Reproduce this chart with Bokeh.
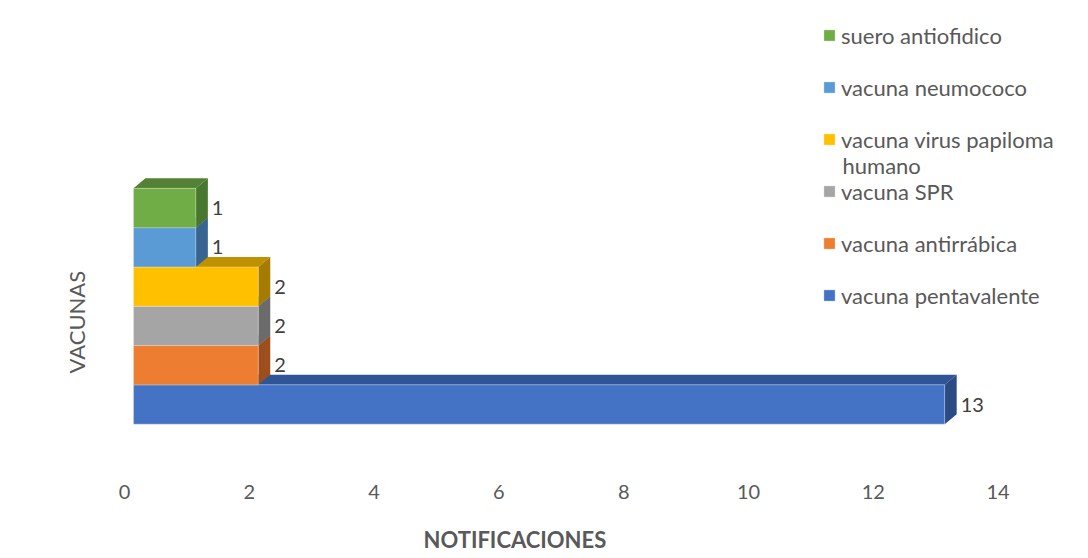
from bokeh.plotting import figure
from bokeh.models import (Range1d, FixedTicker, Legend, LegendItem, Label, Title,
                          ColumnDataSource)
from bokeh.embed import file_html
from bokeh.resources import INLINE
from bokeh.core.properties import value

# ---- data ----
series = ["vacuna pentavalente", "vacuna antirrábica", "vacuna SPR",
          "vacuna virus papiloma humano", "vacuna neumococo", "suero antiofidico"]
counts = [13, 2, 2, 2, 1, 1]
front_colors = ["#4472c4", "#ed7d31", "#a5a5a5", "#ffc000", "#5b9bd5", "#70ad47"]
top_colors = ["#2f5597", "#b05b22", "#7d7d7d", "#bf9000", "#41719c", "#538135"]
side_colors = ["#2c4b84", "#9c4f1d", "#6b6b6b", "#a67c00", "#386491", "#4a772e"]
x_ticks = [0, 2, 4, 6, 8, 10, 12, 14]
x_title = "NOTIFICACIONES"
y_title = "VACUNAS"

# ---- 3D styling (in data units) ----
OFF = 0.144   # front face shift
DX = 0.192    # depth in x
DY = 0.254    # depth in y
H = 0.5       # half bar height

FONT = "Lato"
TXT = "#595959"

n = len(series)
ys = list(range(n))
src = ColumnDataSource(dict(
    y=ys,
    left=[OFF] * n,
    right=[c + OFF for c in counts],
    bottom=[y - H for y in ys],
    top=[y + H for y in ys],
    color=front_colors,
    name=series,
))

top_xs = [[OFF, c + OFF, c + OFF + DX, OFF + DX] for c in counts]
top_ys = [[y + H, y + H, y + H + DY, y + H + DY] for y in ys]
side_xs = [[c + OFF, c + OFF + DX, c + OFF + DX, c + OFF] for c in counts]
side_ys = [[y - H, y - H + DY, y + H + DY, y + H] for y in ys]

FRAME_W, FRAME_H = 965, 456
p = figure(frame_width=FRAME_W, frame_height=FRAME_H,
           x_range=Range1d(-0.224, 15.24), y_range=Range1d(-1.832, 9.771),
           output_backend="svg", toolbar_location=None,
           min_border_left=110, min_border_right=5, min_border_top=20, min_border_bottom=74)
p.outline_line_color = None
p.xgrid.visible = False
p.ygrid.visible = False
p.background_fill_color = "white"
p.border_fill_color = "white"

p.patches(xs=top_xs, ys=top_ys, fill_color=top_colors, line_color=None)
p.patches(xs=side_xs, ys=side_ys, fill_color=side_colors, line_color=None)
front = p.quad(left="left", right="right", bottom="bottom", top="top",
               fill_color="color", line_color="white", line_alpha=0.3, line_width=1,
               source=src)

p.text(x=[c + OFF + DX for c in counts], y=ys, text=[str(c) for c in counts],
       x_offset=4, text_baseline="middle", text_align="left",
       text_font=value(FONT), text_font_size="20px", text_color="#404040")

# x axis (tick labels only; a tiny blank label reserves room for the title below)
xa = p.xaxis[0]
xa.ticker = FixedTicker(ticks=x_ticks)
xa.axis_line_color = None
xa.major_tick_line_color = None
xa.minor_tick_line_color = None
xa.major_tick_out = 0
xa.major_tick_in = 0
xa.major_label_standoff = 8
xa.major_label_text_font = FONT
xa.major_label_text_font_size = "20px"
xa.major_label_text_color = TXT
xa.axis_label = "\u00a0"
xa.axis_label_text_font_size = "1px"
xa.axis_label_standoff = 20

p.yaxis.visible = False

# axis titles
p.add_layout(Title(text=x_title, align="left", offset=313, vertical_align="top", standoff=0,
                   text_font=FONT, text_font_size="22px", text_font_style="bold",
                   text_color=TXT), "below")
p.add_layout(Title(text=y_title, align="left", offset=103, vertical_align="bottom", standoff=42,
                   text_font=FONT, text_font_size="22px", text_font_style="normal",
                   text_color=TXT), "left")

# legend (top to bottom: last series first)
def first_line(s, width=22):
    if len(s) <= width:
        return s, None
    cut = s.rfind(" ", 0, width)
    return s[:cut], s[cut + 1:]

LEG_X, LEG_BOTTOM, ITEM_H, GAP = 712, 167, 28, 24
items = []
extra = []
for k, i in enumerate(reversed(range(n))):
    a, b = first_line(series[i])
    items.append(LegendItem(label=a, renderers=[front], index=i))
    if b:
        extra.append((k, b))

legend = Legend(items=items, location=(LEG_X, LEG_BOTTOM), orientation="vertical",
                glyph_width=14, glyph_height=14, label_standoff=5,
                label_height=ITEM_H, spacing=GAP, padding=0, margin=0,
                border_line_color=None, background_fill_alpha=0,
                label_text_font=FONT, label_text_font_size="22px", label_text_color=TXT)
p.add_layout(legend, "center")

leg_top = LEG_BOTTOM + n * ITEM_H + (n - 1) * GAP
for k, b in extra:
    p.add_layout(Label(x=LEG_X + 14 + 6, y=leg_top - ITEM_H / 2 - (ITEM_H + GAP) * k - 26,
                       x_units="screen", y_units="screen",
                       text=b, text_font=FONT, text_font_size="22px", text_color=TXT,
                       text_baseline="middle", text_align="left"))

open("out.html", "w").write(file_html(p, INLINE))
